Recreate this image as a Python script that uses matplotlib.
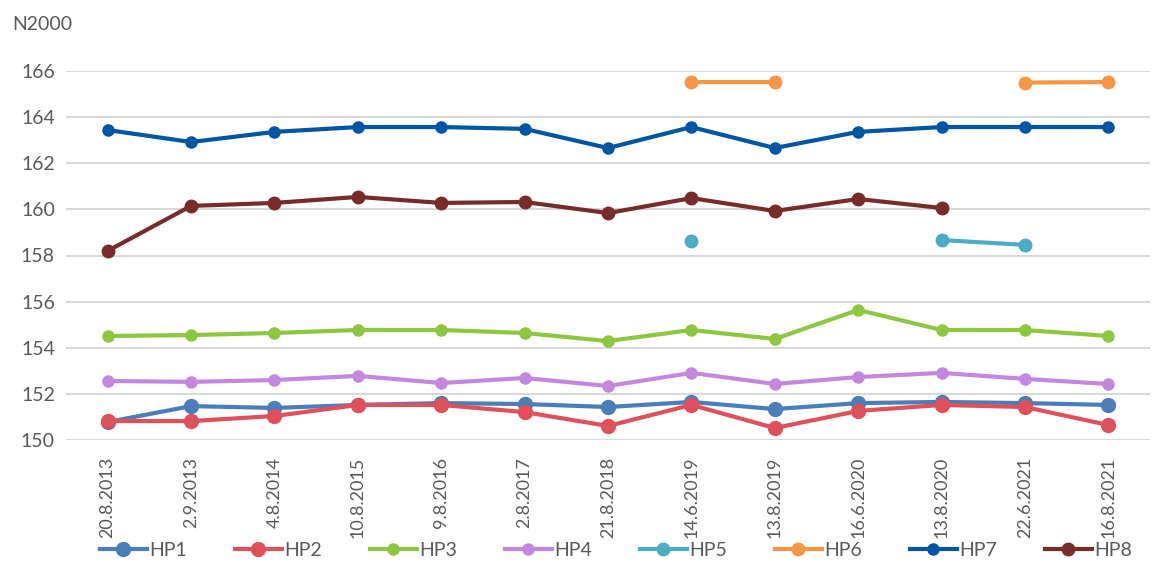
import numpy as np
import matplotlib
matplotlib.use("Agg")
import matplotlib.pyplot as plt

plt.rcParams['font.family'] = ['Lato', 'DejaVu Sans']

dates = ['20.8.2013', '2.9.2013', '4.8.2014', '10.8.2015', '9.8.2016', '2.8.2017',
         '21.8.2018', '14.6.2019', '13.8.2019', '16.6.2020', '13.8.2020', '22.6.2021',
         '16.8.2021']
nan = np.nan
hp1 = [150.78, 151.47, 151.39, 151.52, 151.60, 151.56, 151.43, 151.65, 151.34, 151.60, 151.65, 151.60, 151.52]
hp2 = [150.82, 150.82, 151.04, 151.52, 151.52, 151.21, 150.61, 151.52, 150.52, 151.26, 151.52, 151.43, 150.65]
hp3 = [154.51, 154.55, 154.64, 154.77, 154.77, 154.64, 154.29, 154.77, 154.38, 155.64, 154.77, 154.77, 154.51]
hp4 = [152.56, 152.52, 152.60, 152.78, 152.47, 152.69, 152.34, 152.91, 152.43, 152.73, 152.91, 152.65, 152.43]
hp5 = [nan, nan, nan, nan, nan, nan, nan, 158.63, nan, nan, 158.67, 158.46, nan]
hp6 = [nan, nan, nan, nan, nan, nan, nan, 165.52, 165.52, nan, nan, 165.50, 165.52]
hp7 = [163.44, 162.92, 163.36, 163.57, 163.57, 163.49, 162.66, 163.57, 162.66, 163.36, 163.57, 163.57, 163.57]
hp8 = [158.20, 160.15, 160.28, 160.54, 160.28, 160.32, 159.84, 160.49, 159.93, 160.45, 160.06, nan, nan]

series = [
    ('HP1', hp1, '#4A7EBB', 10),
    ('HP2', hp2, '#E0505A', 10),
    ('HP3', hp3, '#8DC63F', 8),
    ('HP4', hp4, '#C387E0', 8),
    ('HP5', hp5, '#4BACC6', 9),
    ('HP6', hp6, '#F79646', 9),
    ('HP7', hp7, '#0055A5', 8),
    ('HP8', hp8, '#772C2A', 9),
]

fig = plt.figure(figsize=(11.65, 5.85), dpi=100)
ax = fig.add_axes([66 / 1165, (585 - 440) / 585, (1150 - 66) / 1165, 369 / 585])

x = np.arange(len(dates))
for name, vals, col, ms in series:
    ax.plot(x, vals, color=col, lw=3, marker='o', ms=ms, label=name, zorder=3)

ax.set_xlim(-0.5, len(dates) - 0.5)
ax.set_ylim(150, 166)
ax.set_yticks(np.arange(150, 167, 2))
ax.set_xticks(x)
ax.set_xticklabels(dates, rotation=90, fontsize=13, color='#595959')
ax.tick_params(axis='y', labelsize=14, labelcolor='#595959', length=0, pad=8)
ax.tick_params(axis='x', length=0, pad=12)
ax.grid(axis='y', color='#D9D9D9', lw=1.5)
ax.set_axisbelow(True)
for s in ax.spines.values():
    s.set_visible(False)

fig.text(12 / 1165, 1 - 24 / 585, 'N2000', fontsize=14, color='#595959', va='center')

fig.legend(loc='center', bbox_to_anchor=(0.529, 1 - 550 / 585), ncol=8, frameon=False,
           fontsize=14, labelcolor='#595959', handlelength=2.4, handletextpad=0.15,
           columnspacing=2.45)

fig.savefig('out.png', dpi=100)
